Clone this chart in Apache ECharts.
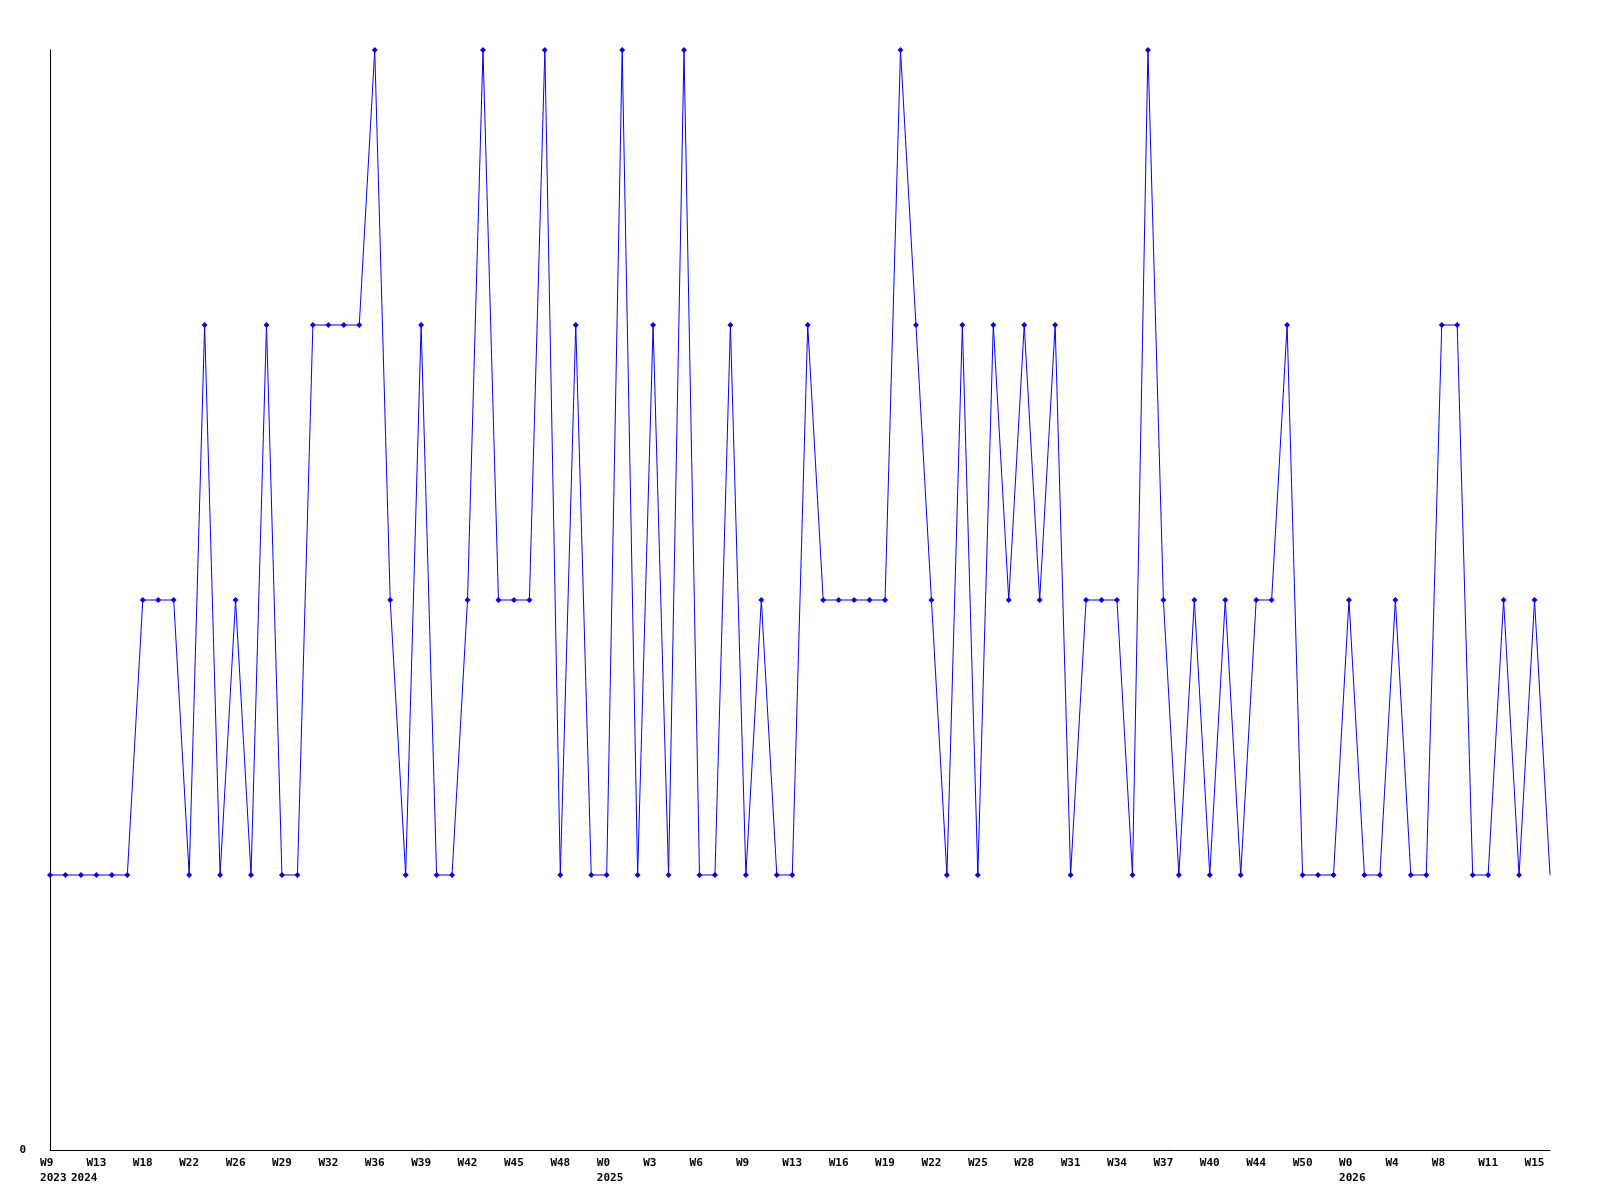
<!DOCTYPE html>
<html>
<head>
<meta charset="utf-8">
<script src="https://cdn.jsdelivr.net/npm/echarts@6/dist/echarts.min.js"></script>
<style>
  html, body { margin: 0; padding: 0; background: #fff; }
  #weekChart { width: 1600px; height: 1200px; }
</style>
</head>
<body>
<div id="weekChart"></div>
<script>
  // week label of each point (only every third one is printed)
  var weeks = [
    'W9', 'W10', 'W12', 'W13', 'W15', 'W16', 'W18', 'W19', 'W21', 'W22',
    'W24', 'W25', 'W26', 'W27', 'W28', 'W29', 'W30', 'W31', 'W32', 'W33',
    'W35', 'W36', 'W37', 'W38', 'W39', 'W40', 'W41', 'W42', 'W43', 'W44',
    'W45', 'W46', 'W47', 'W48', 'W49', 'W51', 'W0', 'W1', 'W2', 'W3',
    'W4', 'W5', 'W6', 'W7', 'W8', 'W9', 'W10', 'W12', 'W13', 'W14',
    'W15', 'W16', 'W17', 'W18', 'W19', 'W20', 'W21', 'W22', 'W23', 'W24',
    'W25', 'W26', 'W27', 'W28', 'W29', 'W30', 'W31', 'W32', 'W33', 'W34',
    'W35', 'W36', 'W37', 'W38', 'W39', 'W40', 'W41', 'W42', 'W44', 'W45',
    'W47', 'W50', 'W51', 'W52', 'W0', 'W2', 'W3', 'W4', 'W5', 'W7',
    'W8', 'W9', 'W10', 'W11', 'W12', 'W14', 'W15', 'W16'
  ];
  // index where each year starts, and its label
  var yearStart = [0, 2, 36, 84];
  var yearNames = ['2023', '2024', '2025', '2026'];

  var values = [
    1, 1, 1, 1, 1, 1, 2, 2, 2, 1,
    3, 1, 2, 1, 3, 1, 1, 3, 3, 3,
    3, 4, 2, 1, 3, 1, 1, 2, 4, 2,
    2, 2, 4, 1, 3, 1, 1, 4, 1, 3,
    1, 4, 1, 1, 3, 1, 2, 1, 1, 3,
    2, 2, 2, 2, 2, 4, 3, 2, 1, 3,
    1, 3, 2, 3, 2, 3, 1, 2, 2, 2,
    1, 4, 2, 1, 2, 1, 2, 1, 2, 2,
    3, 1, 1, 1, 2, 1, 1, 2, 1, 1,
    3, 3, 1, 1, 2, 1, 2, 1
  ];

  /* year of every point, for unique category keys */
  var years = weeks.map(function (w, i) {
    var y = yearNames[0];
    yearStart.forEach(function (s, k) { if (i >= s) y = yearNames[k]; });
    return y;
  });
  var categories = weeks.map(function (w, i) { return years[i] + ' ' + w; });

  var labelFont = {
    fontFamily: 'DejaVu Sans Mono',
    fontWeight: 'bold',
    fontSize: 11,
    color: '#000',
    hideOverlap: false
  };

  /* year row: an extra hidden axis whose labels only sit at the given indexes */
  function yearAxis(indexes) {
    var label = Object.assign({
      interval: function (i) { return indexes.indexOf(i) >= 0; },
      margin: 23,
      formatter: function (v) { return ' ' + v.split(' ')[0]; }
    }, labelFont);
    if (indexes.indexOf(0) >= 0) label.showMinLabel = true;
    return {
      type: 'category',
      data: categories,
      boundaryGap: false,
      position: 'bottom',
      axisLine: { show: false },
      axisTick: { show: false },
      splitLine: { show: false },
      axisLabel: label
    };
  }

  var weekChart = echarts.init(document.getElementById('weekChart'));
  weekChart.setOption({
    animation: false,
    backgroundColor: '#fff',
    grid: { left: 50, right: 50, top: 50, bottom: 50 },
    xAxis: [
      {
        type: 'category',
        data: categories,
        boundaryGap: false,
        axisLine: { lineStyle: { color: '#000', width: 1 } },
        axisTick: { show: false },
        splitLine: { show: false },
        axisLabel: Object.assign({
          interval: 2,
          margin: 8,
          formatter: function (v) {
            var w = v.split(' ')[1];
            // pad to 3 chars so the label starts 10px left of the point
            while (w.length < 3) w += ' ';
            return w;
          }
        }, labelFont)
      },
      yearAxis([yearStart[0]]),
      yearAxis(yearStart.slice(1))
    ],
    yAxis: {
      type: 'value',
      min: 0,
      max: 4,
      interval: 4,
      axisLine: { show: true, lineStyle: { color: '#000', width: 1 } },
      axisTick: { show: false },
      splitLine: { show: false },
      axisLabel: Object.assign({
        margin: 24,
        formatter: function (v) { return v === 0 ? '0' : ''; }
      }, labelFont)
    },
    series: [
      {
        type: 'line',
        xAxisIndex: 0,
        data: values.map(function (v, i) {
          return i === values.length - 1 ? { value: v, symbol: 'none' } : v;
        }),
        symbol: 'diamond',
        symbolSize: 6,
        showAllSymbol: true,
        lineStyle: { color: '#0000ff', width: 1 },
        itemStyle: { color: '#0000ff' }
      }
    ]
  });
</script>
</body>
</html>
